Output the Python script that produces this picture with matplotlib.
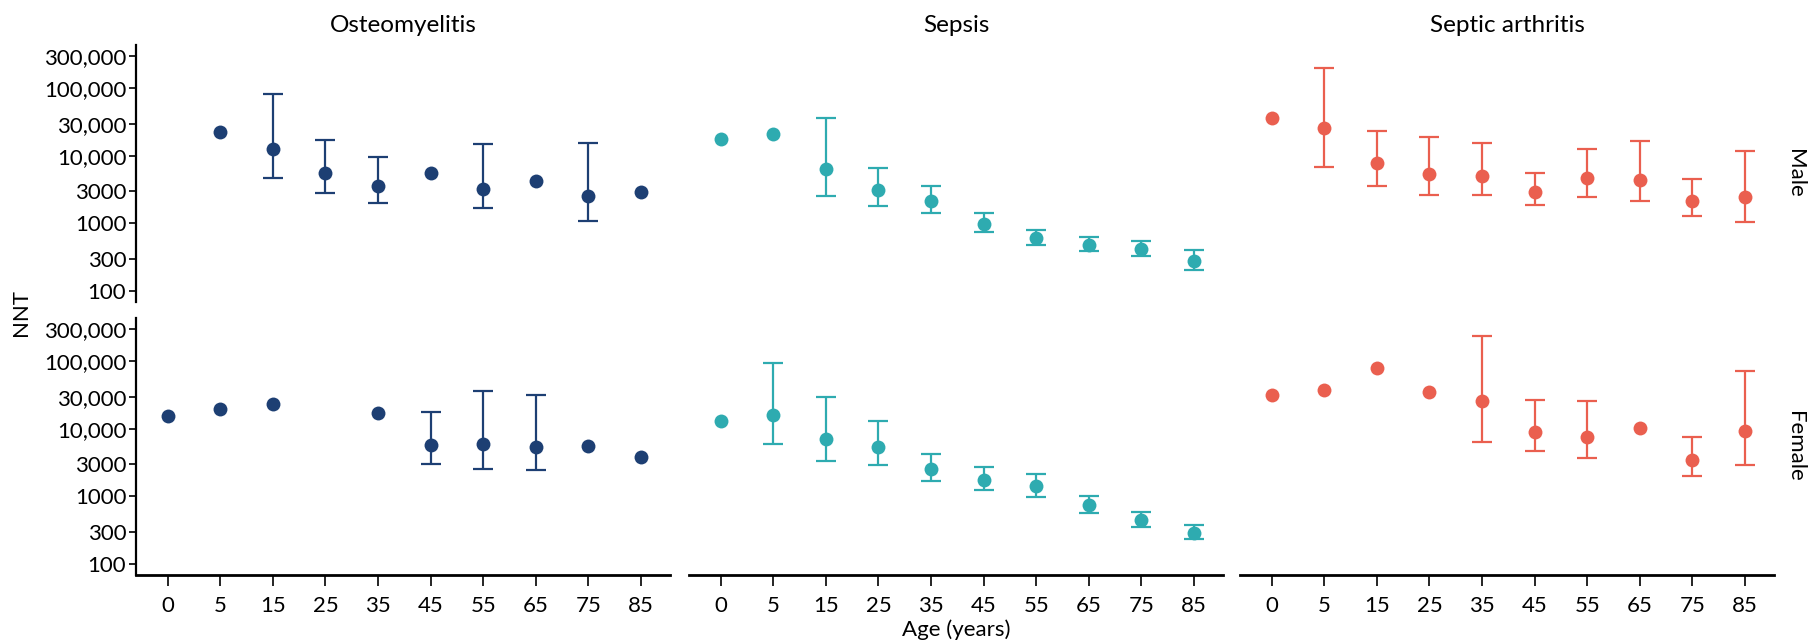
import numpy as np
import matplotlib
matplotlib.use("Agg")
import matplotlib.pyplot as plt
from matplotlib.ticker import FixedLocator, FixedFormatter, NullLocator

plt.rcParams['font.family'] = ['Lato', 'DejaVu Sans']

ages = ['0', '5', '15', '25', '35', '45', '55', '65', '75', '85']
diseases = ['Osteomyelitis', 'Sepsis', 'Septic arthritis']
colors = ['#1d3f73', '#2eabb0', '#ea5f4f']
N = np.nan

# Osteomyelitis
ost_m = [N, 22650, 12700, 5560, 3550, 5620, 3270, 4170, 2510, 2920]
ost_m_lo = [N, N, 4620, 2790, 2000, N, 1660, N, 1070, N]
ost_m_hi = [N, N, 82000, 17400, 9770, N, 14800, N, 15700, N]
ost_f = [15700, 19700, 23200, N, 17000, 5690, 6030, 5370, 5560, 3800]
ost_f_lo = [N, N, N, N, N, 3020, 2510, 2430, N, N]
ost_f_hi = [N, N, N, N, N, 18000, 35900, 32000, N, N]

# Sepsis
sep_m = [17800, 20900, 6380, 3130, 2110, 966, 610, 473, 412, 279]
sep_m_lo = [N, N, 2570, 1780, 1400, 741, 484, 385, 324, 200]
sep_m_hi = [N, N, 36700, 6680, 3590, 1430, 794, 631, 550, 398]
sep_f = [12900, 16000, 7000, 5310, 2510, 1720, 1400, 741, 447, 288]
sep_f_lo = [N, 5890, 3390, 2920, 1700, 1245, 989, 569, 355, 234]
sep_f_hi = [N, 95500, 29900, 13200, 4220, 2750, 2110, 1023, 575, 380]

# Septic arthritis
sa_m = [36700, 26300, 7850, 5310, 5010, 2950, 4680, 4370, 2140, 2450]
sa_m_lo = [N, 6760, 3630, 2660, 2630, 1860, 2480, 2110, 1300, 1060]
sa_m_hi = [N, 200000, 23200, 18800, 15300, 5620, 12600, 16400, 4520, 11600]
sa_f = [31300, 38000, 79400, 35500, 26300, 8910, 7590, 10230, 3430, 9230]
sa_f_lo = [N, N, N, N, 6310, 4620, 3670, N, 2000, 2950]
sa_f_hi = [N, N, N, N, 237000, 27200, 26000, N, 7670, 72400]

panels = [
    [(ost_m, ost_m_lo, ost_m_hi), (sep_m, sep_m_lo, sep_m_hi), (sa_m, sa_m_lo, sa_m_hi)],
    [(ost_f, ost_f_lo, ost_f_hi), (sep_f, sep_f_lo, sep_f_hi), (sa_f, sa_f_lo, sa_f_hi)],
]
sexes = ['Male', 'Female']

yticks = [100, 300, 1000, 3000, 10000, 30000, 100000, 300000]
yticklabels = ['100', '300', '1000', '3000', '10,000', '30,000', '100,000', '300,000']

W, H = 1812, 643
fig = plt.figure(figsize=(W / 100, H / 100), dpi=100)

lefts = [136, 689, 1240]
pw = 534
tops = [45, 318]
ph = 257

x = np.arange(len(ages))
for r in range(2):
    for c in range(3):
        ax = fig.add_axes([lefts[c] / W, 1 - (tops[r] + ph) / H, pw / W, ph / H])
        est, lo, hi = [np.array(v, dtype=float) for v in panels[r][c]]
        col = colors[c]
        ok = ~np.isnan(lo)
        ax.errorbar(x[ok], est[ok], yerr=[est[ok] - lo[ok], hi[ok] - est[ok]],
                    fmt='none', ecolor=col, elinewidth=1.6, capsize=7.5, capthick=1.6)
        ax.plot(x, est, 'o', color=col, markersize=10, markeredgewidth=0)
        ax.set_yscale('log')
        ax.set_ylim(68, 440000)
        ax.set_xlim(-0.6, 9.55)
        ax.yaxis.set_major_locator(FixedLocator(yticks))
        ax.yaxis.set_major_formatter(FixedFormatter(yticklabels))
        ax.yaxis.set_minor_locator(NullLocator())
        for s in ['top', 'right']:
            ax.spines[s].set_visible(False)
        if c > 0:
            ax.spines['left'].set_visible(False)
            ax.tick_params(axis='y', left=False, labelleft=False)
        else:
            ax.spines['left'].set_linewidth(1.6)
            ax.tick_params(axis='y', length=5, width=1.2, labelsize=16, pad=2)
        if r == 0:
            ax.spines['bottom'].set_visible(False)
            ax.tick_params(axis='x', bottom=False, labelbottom=False)
            ax.set_title(diseases[c], fontsize=17.5, pad=9)
        else:
            ax.spines['bottom'].set_linewidth(2)
            ax.set_xticks(x)
            ax.set_xticklabels(ages)
            ax.tick_params(axis='x', length=8, width=1.2, labelsize=16, pad=7)
        if c == 2:
            ax.text(1.02, 0.5, sexes[r], transform=ax.transAxes, rotation=-90,
                    va='center', ha='left', fontsize=16)

fig.text(21 / W, 1 - 312 / H, 'NNT', rotation=90, va='center', ha='center', fontsize=16)
fig.text((lefts[1] + pw / 2) / W, 1 - 630 / H, 'Age (years)', va='center', ha='center', fontsize=16)

fig.savefig('out.png', dpi=100, facecolor='white')
